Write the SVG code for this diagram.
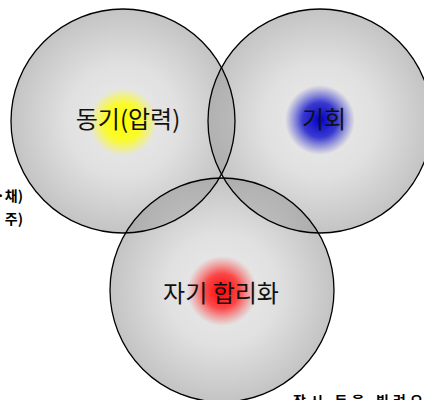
<svg xmlns="http://www.w3.org/2000/svg" width="424" height="400" viewBox="0 0 424 400">
<defs>
<radialGradient id="gray" cx="0.5" cy="0.5" r="0.5">
<stop offset="0" stop-color="#dcdcdc"/>
<stop offset="0.5" stop-color="#cccccc"/>
<stop offset="1" stop-color="#9c9c9c"/>
</radialGradient>
<radialGradient id="yel"><stop offset="0" stop-color="#ffff00"/><stop offset="0.55" stop-color="#ffff00" stop-opacity="0.8"/><stop offset="1" stop-color="#ffff00" stop-opacity="0"/></radialGradient>
<radialGradient id="blu"><stop offset="0" stop-color="#0000cc"/><stop offset="0.5" stop-color="#1a1acc" stop-opacity="0.85"/><stop offset="1" stop-color="#3333cc" stop-opacity="0"/></radialGradient>
<radialGradient id="red"><stop offset="0" stop-color="#ff0000"/><stop offset="0.5" stop-color="#ff2020" stop-opacity="0.8"/><stop offset="1" stop-color="#ff4040" stop-opacity="0"/></radialGradient>
</defs>
<style>
.c{fill:url(#gray);fill-opacity:0.6;stroke:none}
.o{fill:none;stroke:#000;stroke-width:1.3}
.lbl{font-family:"Noto Sans CJK KR","Noto Sans",sans-serif;font-size:24px;fill:#111;text-anchor:middle}
.side{font-family:"Noto Sans CJK KR","Noto Sans",sans-serif;font-size:14px;font-weight:bold;fill:#000}
</style>
<g id="circle-motive"><circle class="c" cx="123" cy="121" r="112"/></g>
<g id="circle-opportunity"><circle class="c" cx="320" cy="121" r="112"/></g>
<g id="circle-rationalization"><circle class="c" cx="222" cy="290" r="112"/></g>
<g id="outlines">
<circle class="o" cx="123" cy="121" r="112"/>
<circle class="o" cx="320" cy="121" r="112"/>
<circle class="o" cx="222" cy="290" r="112"/>
</g>
<g id="node-motive">
<circle cx="123" cy="122" r="34" fill="url(#yel)"/>
<text class="lbl" x="128" y="128">동기(압력)</text>
</g>
<g id="node-opportunity">
<circle cx="320" cy="120" r="35" fill="url(#blu)"/>
<text class="lbl" x="324" y="128">기회</text>
</g>
<g id="node-rationalization">
<circle cx="222" cy="291" r="35" fill="url(#red)"/>
<text class="lbl" x="221" y="302">자기 합리화</text>
</g>
<g id="notes">
<text class="side" x="23" y="201" text-anchor="end">·채)</text>
<text class="side" x="23" y="224" text-anchor="end">주)</text>
<text class="side" x="293" y="406" font-size="16" textLength="130" lengthAdjust="spacing">잠시 돈을 빌려오</text>
</g>
</svg>
